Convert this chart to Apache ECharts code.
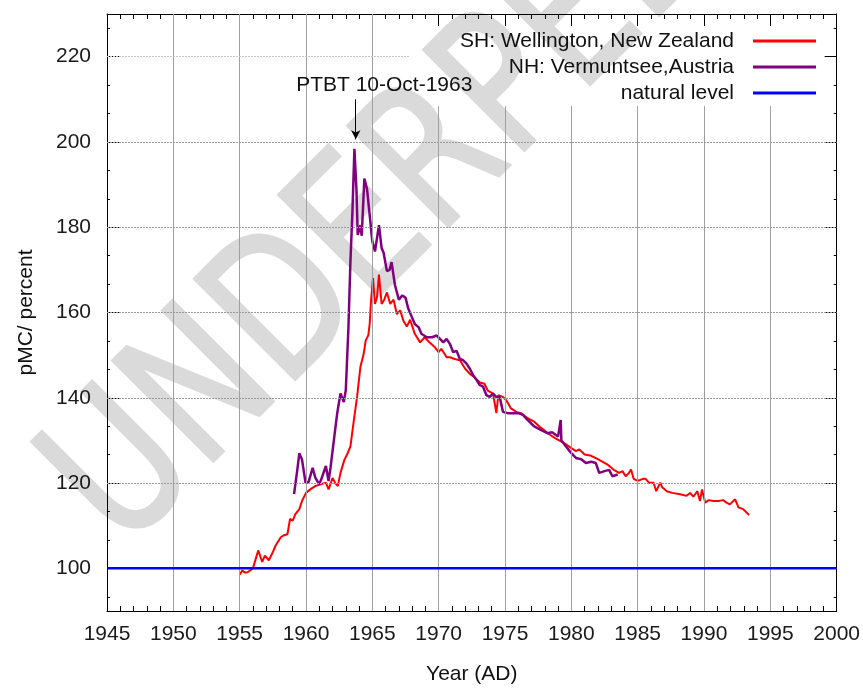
<!DOCTYPE html>
<html>
<head>
<meta charset="utf-8">
<script src="https://cdn.jsdelivr.net/npm/echarts@6/dist/echarts.min.js"></script>
<style>
html,body{margin:0;padding:0;background:#fff;}
#chart{width:863px;height:690px;}
</style>
</head>
<body>
<div id="chart"></div>
<script>
// ---- data ----
var xTicks = [1945,1950,1955,1960,1965,1970,1975,1980,1985,1990,1995,2000];
var yTicks = [100,120,140,160,180,200,220];

var shYears = [1955.0,1955.2,1955.4,1955.6,1956.0,1956.4,1956.7,1956.9,1957.2,1957.5,1957.7,1958.1,1958.3,1958.6,1958.8,1959.0,1959.2,1959.5,1959.7,1960.0,1960.4,1960.7,1961.1,1961.5,1961.7,1962.0,1962.2,1962.4,1962.6,1962.9,1963.1,1963.35,1963.6,1963.85,1964.1,1964.35,1964.5,1964.7,1964.8,1964.9,1965.05,1965.2,1965.35,1965.5,1965.7,1965.9,1966.1,1966.35,1966.6,1966.85,1967.1,1967.35,1967.6,1967.85,1968.2,1968.6,1968.95,1969.3,1969.7,1970.0,1970.2,1970.6,1970.85,1971.2,1971.6,1972.0,1972.35,1972.7,1973.1,1973.45,1973.7,1974.1,1974.35,1974.5,1974.85,1975.1,1975.45,1975.85,1976.2,1976.7,1977.2,1977.7,1978.3,1978.8,1979.4,1980.0,1980.35,1980.6,1981.0,1981.5,1982.0,1982.7,1983.2,1983.6,1983.85,1984.1,1984.35,1984.5,1984.7,1985.0,1985.4,1985.6,1985.85,1986.2,1986.4,1986.7,1986.85,1987.2,1987.6,1988.2,1988.7,1988.95,1989.2,1989.5,1989.7,1989.85,1990.1,1990.35,1990.7,1991.1,1991.45,1991.7,1991.95,1992.35,1992.6,1992.95,1993.4];
var shValues = [98.5,99.5,99.0,99.1,100.0,104.2,101.5,103.0,101.9,103.8,105.3,107.3,107.7,108.0,111.6,111.2,112.7,113.9,115.8,117.7,118.7,119.3,119.7,120.1,118.5,121.2,120.0,119.3,122.4,125.5,126.7,128.6,134.5,140.2,147.2,150.3,153.4,154.7,157.3,162.7,168.1,162.0,163.5,168.9,162.0,163.0,164.7,162.0,163.0,159.6,160.5,158.0,156.7,158.3,155.0,153.0,154.2,153.0,151.9,150.7,151.5,149.5,149.5,149.1,148.8,146.8,145.6,144.8,143.6,143.3,141.7,141.0,136.4,140.6,140.2,139.4,137.5,136.7,136.4,135.2,134.4,133.0,131.5,130.5,129.5,128.2,127.5,127.9,126.7,126.4,125.6,124.4,123.1,122.4,122.8,121.6,122.4,123.2,121.0,120.5,121.0,121.0,120.1,120.1,118.1,120.1,119.0,118.1,117.7,117.4,117.0,117.7,116.8,118.1,115.8,118.5,115.4,116.0,115.8,115.8,116.0,115.4,115.0,116.2,114.3,113.9,112.5];

var nhYears = [1959.1,1959.35,1959.5,1959.7,1959.97,1960.2,1960.5,1960.7,1961.0,1961.2,1961.5,1961.7,1961.85,1962.1,1962.35,1962.6,1962.85,1963.0,1963.2,1963.35,1963.5,1963.65,1963.8,1963.9,1964.1,1964.2,1964.4,1964.6,1964.8,1965.0,1965.2,1965.5,1965.7,1965.85,1966.1,1966.3,1966.45,1966.7,1967.0,1967.25,1967.5,1967.7,1968.0,1968.2,1968.5,1968.7,1969.1,1969.5,1969.85,1970.1,1970.35,1970.6,1970.85,1971.1,1971.35,1971.6,1971.85,1972.1,1972.35,1972.6,1972.85,1973.1,1973.35,1973.6,1973.85,1974.1,1974.35,1974.6,1974.85,1975.2,1975.6,1976.0,1976.35,1976.7,1977.2,1977.7,1978.2,1978.55,1979.0,1979.2,1979.25,1979.6,1980.0,1980.35,1980.75,1981.1,1981.5,1981.85,1982.1,1982.5,1982.85,1983.1,1983.5];
var nhValues = [117.4,123.2,127.0,125.5,120.0,120.3,123.6,121.3,119.7,121.3,124.0,120.5,123.6,130.0,136.3,141.0,139.0,141.8,156.5,172.0,183.6,198.4,189.0,178.2,180.5,178.0,191.4,189.0,182.9,176.7,174.3,180.5,175.1,174.0,169.7,170.0,171.8,166.5,163.0,164.0,163.5,161.0,158.8,157.3,156.5,155.0,154.2,154.2,154.6,153.8,153.0,153.8,152.6,150.7,151.0,149.1,148.8,148.0,146.8,145.3,144.2,143.0,142.6,140.6,140.2,141.0,140.2,140.2,136.7,136.4,136.4,136.4,136.0,134.8,133.3,132.5,131.7,131.9,130.9,134.8,130.0,128.6,127.0,125.9,125.6,124.7,125.0,124.7,122.4,122.8,123.1,121.6,122.0];

var naturalYears = [1945, 2000];
var naturalValues = [100, 100];

var seriesNames = ['SH: Wellington, New Zealand', 'NH: Vermuntsee,Austria', 'natural level'];
var annotationText = 'PTBT 10-Oct-1963';
var ptbtYear = 1963.75;
var watermarkText = 'UNDERPEER';

function zip(a, b) { return a.map(function (v, i) { return [v, b[i]]; }); }

var X_MIN = 1945, X_MAX = 2000, Y_MIN = 90, Y_MAX = 230;
var KEY_LEFT_YEAR = 1967.8, KEY_BOTTOM_VALUE = 208.4; // region covered by the opaque key box
var Y_MINOR_PER_MAJOR = 3;
var MINOR_TICK_YEARS = 0.22; // short minor tick length on the value axes, in axis units

// grid lines drawn as mark lines so that the key box interrupts them
var gridLines = [];
xTicks.forEach(function (x) {
  if (x === X_MIN || x === X_MAX) return;
  var top = x > KEY_LEFT_YEAR ? KEY_BOTTOM_VALUE : Y_MAX;
  gridLines.push([{coord: [x, Y_MIN], lineStyle: {color: '#a0a0a0', width: 1, type: 'solid'}}, {coord: [x, top]}]);
});
yTicks.forEach(function (y) {
  var right = y > KEY_BOTTOM_VALUE ? KEY_LEFT_YEAR : X_MAX;
  gridLines.push([{coord: [X_MIN, y], lineStyle: {color: y > KEY_BOTTOM_VALUE ? '#c8c8c8' : '#9a9a9a', width: 1, type: [2, 1]}}, {coord: [right, y]}]);
});
// minor ticks of the value axes (thirds of a major step)
var yStep = yTicks[1] - yTicks[0];
for (var k = -1; k < yTicks.length; k++) {
  var base = (k < 0 ? yTicks[0] - yStep : yTicks[k]);
  for (var j = 1; j < Y_MINOR_PER_MAJOR; j++) {
    var v = base + yStep * j / Y_MINOR_PER_MAJOR;
    if (v <= Y_MIN || v >= Y_MAX) continue;
    gridLines.push([{coord: [X_MIN, v], lineStyle: {color: '#000', width: 1, type: 'solid'}}, {coord: [X_MIN + MINOR_TICK_YEARS, v]}]);
    gridLines.push([{coord: [X_MAX, v], lineStyle: {color: '#000', width: 1, type: 'solid'}}, {coord: [X_MAX - MINOR_TICK_YEARS, v]}]);
  }
}

var FONT = "'Liberation Sans', Arial, sans-serif";
var chart = echarts.init(document.getElementById('chart'), null, {renderer: 'canvas'});

var tickCommon = {inside: true, length: 12, lineStyle: {color: '#000', width: 1}};
var minorCommon = {show: true, splitNumber: 5, length: 5, lineStyle: {color: '#000', width: 1}};

chart.setOption({
  animation: false,
  backgroundColor: '#fff',
  grid: {left: 107, right: 23, top: 14, bottom: 74, containLabel: false},
  legend: {
    data: seriesNames,
    orient: 'vertical',
    align: 'right',
    right: 47,
    top: 29,
    icon: 'rect',
    itemWidth: 63,
    itemHeight: 3,
    itemGap: 2,
    padding: 0,
    textStyle: {fontSize: 21, lineHeight: 24, color: '#111', fontFamily: FONT, padding: [0, 14, 0, 0]}
  },
  graphic: [
    {type: 'text', z: -1, x: 422, y: 181, rotation: Math.PI / 4, scaleX: 0.75, scaleY: 0.95, silent: true,
     style: {text: watermarkText, font: "206px 'DejaVu Sans'", fill: '#dadada', stroke: '#dadada', lineWidth: 3,
             lineJoin: 'round', align: 'center', verticalAlign: 'middle'}}
  ],
  xAxis: [
    {
      type: 'value', position: 'bottom', min: X_MIN, max: X_MAX, interval: 5,
      name: 'Year (AD)', nameLocation: 'middle', nameGap: 53,
      nameTextStyle: {fontSize: 21, color: '#111', fontFamily: FONT},
      axisLine: {show: true, lineStyle: {color: '#000', width: 1}},
      axisTick: tickCommon,
      minorTick: minorCommon,
      splitLine: {show: false},
      axisLabel: {fontSize: 21, color: '#1a1a1a', margin: 13, fontFamily: FONT,
                  showMinLabel: true, showMaxLabel: true,
                  formatter: function (v) { return String(v); }}
    },
    {
      type: 'value', position: 'top', min: X_MIN, max: X_MAX, interval: 5,
      axisLine: {show: true, lineStyle: {color: '#000', width: 1}},
      axisTick: tickCommon,
      minorTick: minorCommon,
      splitLine: {show: false},
      axisLabel: {show: false}
    }
  ],
  yAxis: [
    {
      type: 'value', position: 'left', min: Y_MIN, max: Y_MAX,
      name: 'pMC/ percent', nameLocation: 'middle', nameGap: 70, nameRotate: 90,
      nameTextStyle: {fontSize: 21, color: '#111', fontFamily: FONT},
      axisLine: {show: true, lineStyle: {color: '#000', width: 1}},
      axisTick: {inside: true, length: 12, customValues: yTicks, lineStyle: {color: '#000', width: 1}},
      splitLine: {show: false},
      axisLabel: {fontSize: 21, color: '#1a1a1a', margin: 16, fontFamily: FONT, customValues: yTicks}
    },
    {
      type: 'value', position: 'right', min: Y_MIN, max: Y_MAX,
      axisLine: {show: true, lineStyle: {color: '#000', width: 1}},
      axisTick: {inside: true, length: 12, customValues: yTicks, lineStyle: {color: '#000', width: 1}},
      splitLine: {show: false},
      axisLabel: {show: false, customValues: yTicks}
    }
  ],
  series: [
    {
      name: 'grid', type: 'line', data: [[X_MIN, Y_MIN]], z: 2,
      showSymbol: false, symbol: 'none', lineStyle: {width: 0}, silent: true,
      markLine: {silent: true, symbol: ['none', 'none'], label: {show: false}, animation: false, data: gridLines}
    },
    {
      name: seriesNames[0], type: 'line', data: zip(shYears, shValues),
      showSymbol: false, symbol: 'none', color: '#ff0000',
      lineStyle: {color: '#ff0000', width: 2}, z: 3
    },
    {
      name: seriesNames[1], type: 'line', data: zip(nhYears, nhValues),
      showSymbol: false, symbol: 'none', color: '#800080',
      lineStyle: {color: '#800080', width: 2.5}, z: 4
    },
    {
      name: seriesNames[2], type: 'line', data: zip(naturalYears, naturalValues),
      showSymbol: false, symbol: 'none', color: '#0000ff',
      lineStyle: {color: '#0000ff', width: 2.5}, z: 5,
      markLine: {
        silent: true, symbol: ['none', 'arrow'], symbolSize: [7, 9],
        lineStyle: {color: '#000', width: 1, type: 'solid'},
        label: {show: false}, animation: false,
        data: [[{coord: [ptbtYear, 210]}, {coord: [ptbtYear, 200.6]}]]
      },
      markPoint: {
        silent: true, symbol: 'rect', symbolSize: 1, animation: false,
        itemStyle: {color: 'rgba(0,0,0,0)'},
        label: {show: true, position: 'inside', formatter: annotationText, fontSize: 21, color: '#111', fontFamily: FONT},
        data: [{coord: [1965.9, 213.2], value: 0}]
      }
    }
  ]
});
</script>
</body>
</html>
